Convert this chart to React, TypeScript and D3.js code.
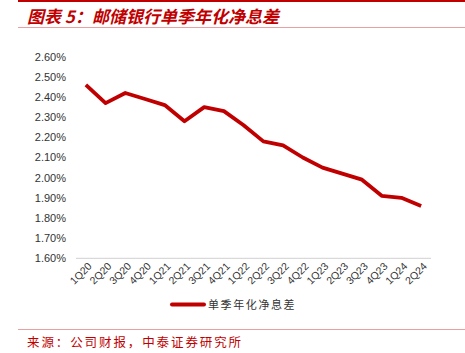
import React, { useEffect, useRef } from "react";
import * as d3 from "d3";

const quarters = [
  "1Q20", "2Q20", "3Q20", "4Q20", "1Q21", "2Q21", "3Q21", "4Q21", "1Q22",
  "2Q22", "3Q22", "4Q22", "1Q23", "2Q23", "3Q23", "4Q23", "1Q24", "2Q24",
];
const nim = [
  2.46, 2.37, 2.42, 2.39, 2.36, 2.28, 2.35, 2.33, 2.26,
  2.18, 2.16, 2.10, 2.05, 2.02, 1.99, 1.91, 1.90, 1.86,
];
const yTicks = [1.6, 1.7, 1.8, 1.9, 2.0, 2.1, 2.2, 2.3, 2.4, 2.5, 2.6];
const seriesName = "单季年化净息差";

const W = 465;
const H = 353;
const red = "#c00000";

const App = () => {
  const svgRef = useRef<SVGSVGElement | null>(null);

  useEffect(() => {
    const svg = d3.select(svgRef.current);
    svg.selectAll("*").remove();

    const left = 76, right = 431, top = 56.7, bottom = 258.3;
    const cjk = "'Noto Sans CJK SC', sans-serif";

    // title + frame lines
    svg.append("line").attr("x1", 18).attr("x2", W).attr("y1", 1).attr("y2", 1)
      .attr("stroke", red).attr("stroke-width", 2);
    svg.append("text").attr("x", 27).attr("y", 23)
      .attr("fill", red).attr("font-family", cjk).attr("font-size", 17)
      .attr("font-weight", "bold").attr("font-style", "italic")
      .text("图表 5：邮储银行单季年化净息差");
    svg.append("line").attr("x1", 18).attr("x2", W).attr("y1", 27.5).attr("y2", 27.5)
      .attr("stroke", "#e8a0a0").attr("stroke-width", 1);

    const x = d3.scaleBand().domain(quarters).range([left, right]);
    const y = d3.scaleLinear().domain([1.6, 2.6]).range([bottom, top]);

    // y labels
    svg.append("g").selectAll("text").data(yTicks).join("text")
      .attr("x", 66).attr("y", (d) => y(d)).attr("dy", "0.35em")
      .attr("text-anchor", "end").attr("font-family", "'Liberation Sans', Arial, sans-serif")
      .attr("font-size", 11).attr("fill", "#333")
      .text((d) => d3.format(".2f")(d) + "%");

    // x axis line
    svg.append("line").attr("x1", left).attr("x2", right).attr("y1", bottom).attr("y2", bottom)
      .attr("stroke", "#d9d9d9").attr("stroke-width", 1.2);

    // x labels rotated
    svg.append("g").selectAll("text").data(quarters).join("text")
      .attr("transform", (d) => `translate(${x(d)! + x.bandwidth() / 2 + 4},${bottom + 6}) rotate(-45)`)
      .attr("text-anchor", "end").attr("dy", "0.35em")
      .attr("font-family", "'Liberation Sans', Arial, sans-serif")
      .attr("font-size", 10.5).attr("fill", "#333")
      .text((d) => d);

    // line
    const line = d3.line<number>()
      .x((_, i) => x(quarters[i])! + x.bandwidth() / 2)
      .y((d) => y(d));
    svg.append("path").datum(nim).attr("d", line)
      .attr("fill", "none").attr("stroke", red).attr("stroke-width", 3.8)
      .attr("stroke-linejoin", "round");

    // legend
    svg.append("line").attr("x1", 172).attr("x2", 204).attr("y1", 304.5).attr("y2", 304.5)
      .attr("stroke", red).attr("stroke-width", 4).attr("stroke-linecap", "round");
    svg.append("text").attr("x", 208).attr("y", 305).attr("dy", "0.35em")
      .attr("font-family", cjk).attr("font-size", 11).attr("letter-spacing", 1.6)
      .attr("fill", "#333").text(seriesName);

    // footer
    svg.append("line").attr("x1", 18).attr("x2", W).attr("y1", 329.5).attr("y2", 329.5)
      .attr("stroke", "#e8a0a0").attr("stroke-width", 1);
    svg.append("text").attr("x", 27).attr("y", 343).attr("dy", "0.35em")
      .attr("font-family", cjk).attr("font-size", 12.5).attr("letter-spacing", 1.9)
      .attr("fill", red).text("来源：公司财报，中泰证券研究所");
  }, []);

  return (
    <svg
      ref={svgRef}
      width={W}
      height={H}
      style={{ position: "absolute", left: 0, top: 0, background: "#fff" }}
    />
  );
};

export default App;
